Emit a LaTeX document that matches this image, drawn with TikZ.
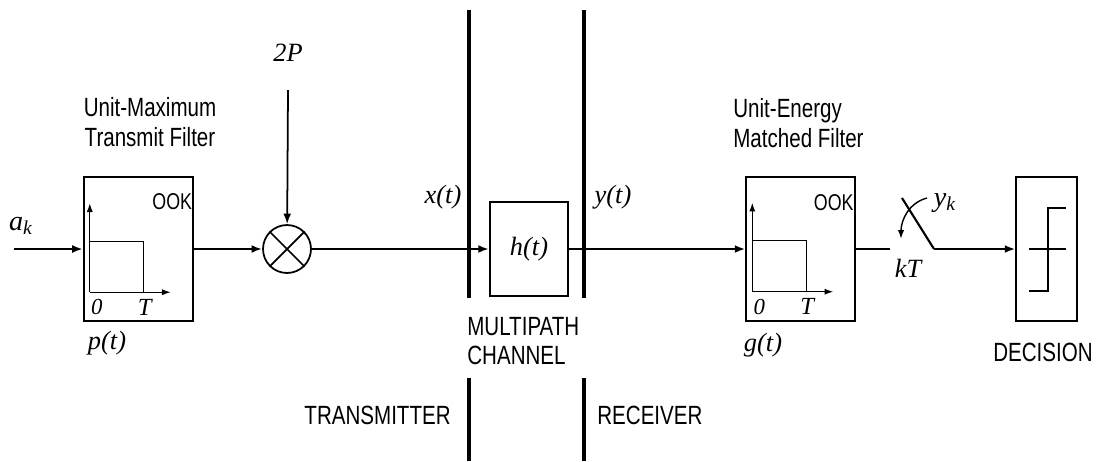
\documentclass[tikz,border=0pt]{standalone}
\usepackage{fontspec}
\setmainfont{Liberation Serif}
\newfontfamily\narrowsans[FakeStretch=0.78]{Liberation Sans}
\usetikzlibrary{arrows.meta}

\begin{document}
\begin{tikzpicture}[x=0.02cm,y=-0.02cm,
    sig/.style={line width=1.5pt,-{Latex[length=6pt,width=4.5pt]}},
    blk/.style={draw,minimum width=2.18cm,minimum height=2.88cm,inner sep=0pt},
    txt/.style={font=\narrowsans\fontsize{15}{17}\selectfont,inner sep=0pt},
    var/.style={font=\itshape\fontsize{15}{17}\selectfont,inner sep=0pt}]

        \useasboundingbox (0,0) rectangle (1097,461);

        %------------------
        % 送信側
        %------------------

        \coordinate (in) at (14,249);
        \node[var,font=\itshape\fontsize{16}{18}\selectfont] (ak) at (21,226) {a\textsubscript{k}};

        \node[blk,line width=1.4pt] (tx) at (138.5,249) {};
        \node[txt,align=center] (txname) at (150,122) {Unit-Maximum\\Transmit Filter};
        \node[var] (pt) at (107,343) {p(t)};

        % 乗算器
        \node[circle,draw,line width=1pt,minimum size=0.96cm,inner sep=0pt] (mul) at (287,249) {};
        \draw[line width=1pt] (mul.north west) -- (mul.south east)
                              (mul.north east) -- (mul.south west);
        \node[var] (pw) at (288,53) {2P};
        \coordinate (pin) at (288,90);

        %------------------
        % 通信路
        %------------------

        \draw[line width=2pt] (469,10) -- (469,298) (469,378) -- (469,461);
        \draw[line width=2pt] (584,10) -- (584,298) (584,378) -- (584,461);

        \node[draw,line width=1.3pt,minimum width=1.56cm,minimum height=1.88cm,var] (ch) at (529,249) {h(t)};
        \node[var] (xt) at (443,197) {x(t)};
        \node[var] (yt) at (613,197) {y(t)};
        \node[txt,align=left,anchor=west] (chname) at (467,341) {MULTIPATH\\CHANNEL};

        \node[txt,anchor=east] (txside) at (451,415) {TRANSMITTER};
        \node[txt,anchor=west] (rxside) at (597,415) {RECEIVER};

        %------------------
        % 受信側
        %------------------

        \node[blk,line width=0.8pt] (rx) at (800.5,249) {};
        \node[txt,align=left,anchor=west] (rxname) at (733,123) {Unit-Energy\\Matched Filter};
        \node[var] (gt) at (763,345) {g(t)};

        % パルス波形
        \foreach \b in {tx,rx}{
          \begin{scope}[shift={(\b.south west)}]
            \draw[line width=0.7pt,-{Latex[length=5pt,width=3.5pt]}] (7,-30) -- (7,-119);
            \draw[line width=0.7pt,-{Latex[length=5pt,width=3.5pt]}] (7,-30) -- (88,-30);
            \draw[line width=0.7pt] (7,-81) -- (61,-81) -- (61,-30);
            \node[var,font=\itshape\fontsize{13}{15}\selectfont] (\b-zero) at (14,-15) {0};
            \node[var,font=\itshape\fontsize{14}{16}\selectfont] (\b-T) at (62,-15) {T};
          \end{scope}
          \node[txt,font=\narrowsans\fontsize{13}{15}\selectfont] (\b-ook) at ([shift={(-22,26)}]\b.north east) {OOK};
        }

        % サンプラ
        \coordinate (swa) at (890,249);
        \coordinate (swb) at (934,249);
        \coordinate (swc) at (902,198);
        \draw[line width=1.2pt] (rx.east) -- (swa);
        \draw[line width=1.2pt] (swb) -- (swc);
        \node[var,font=\itshape\fontsize{16}{18}\selectfont] (yk) at (945,203) {y\textsubscript{k}};
        \node[var] (kT) at (908,268) {kT};
        \coordinate (arcs) at (927,198);
        \coordinate (arce) at (901,239);
        \draw[line width=0.8pt,-{Latex[length=5pt,width=3.5pt]}] (arcs) to[out=195,in=90] (arce);

        % 判定器
        \node[draw,line width=0.8pt,minimum width=1.22cm,minimum height=2.88cm] (dec) at (1046.5,249) {};
        \draw[line width=0.8pt] (1029,249) -- (1066,249);
        \draw[line width=0.8pt] (1029,291) -- (1048,291) -- (1048,208) -- (1066,208);
        \node[txt] (decname) at (1043,352) {DECISION};

        %------------------
        % 信号線
        %------------------

        \draw[sig] (in) -- (tx);
        \draw[sig] (tx) -- (mul);
        \draw[sig,line width=1pt] (pin) -- (mul);
        \draw[sig] (mul) -- (ch);
        \draw[sig] (ch) -- (rx);
        \draw[sig] (swb) -- (dec);
      \end{tikzpicture}
\end{document}
